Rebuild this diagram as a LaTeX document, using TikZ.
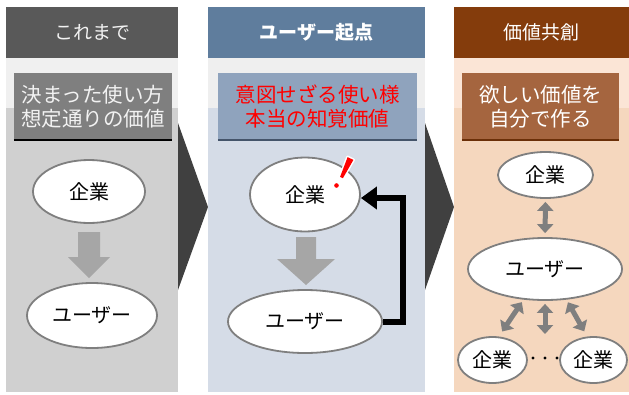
\documentclass[tikz,border=0pt]{standalone}
\usepackage{fontspec}
\setmainfont{Noto Sans CJK JP}
\usetikzlibrary{arrows.meta,shapes.geometric,calc}
\definecolor{pAhead}{HTML}{595959}
\definecolor{pAband}{HTML}{F0F0F0}
\definecolor{pAbody}{HTML}{D0D0D0}
\definecolor{pAbox}{HTML}{7F7F7F}
\definecolor{pAtext}{HTML}{F2F2F2}
\definecolor{pBhead}{HTML}{5F7D9D}
\definecolor{pBband}{HTML}{EFEFEF}
\definecolor{pBbody}{HTML}{D5DCE7}
\definecolor{pBbox}{HTML}{8FA3BD}
\definecolor{pBline}{HTML}{44546A}
\definecolor{pChead}{HTML}{843C0C}
\definecolor{pCband}{HTML}{FBE5D6}
\definecolor{pCbody}{HTML}{F5D7BE}
\definecolor{pCbox}{HTML}{A5653F}
\definecolor{pCline}{HTML}{6B2F08}
\definecolor{chev}{HTML}{404040}
\definecolor{ellb}{HTML}{7F7F7F}
\definecolor{blockgray}{HTML}{A6A6A6}
\definecolor{darrgray}{HTML}{7F7F7F}
\begin{document}
\begin{tikzpicture}[x=1pt,y=-1pt,
  headtxt/.style={text=white,font=\fontsize{19}{19}\selectfont,inner sep=0pt},
  boxtxt/.style={inner sep=0pt,minimum height=67pt,align=center,font=\fontsize{20.5}{24}\selectfont},
  ell/.style={ellipse,draw=ellb,line width=1.8pt,fill=white,inner sep=0pt,font=\fontsize{20}{20}\selectfont},
  darr/.style={draw=darrgray,line width=5pt,{Triangle[width=16pt,length=9pt]}-{Triangle[width=16pt,length=9pt]}},
  fb/.style={draw=black,line width=6pt,-{Triangle[width=22pt,length=16pt]}}
]
\useasboundingbox (0,0) rectangle (629,394);
% ---------- panel 1
\fill[pAbody] (6,7) rectangle (178,392);
\fill[pAband] (6,58) rectangle (178,108);
\fill[pAhead] (6,7) rectangle (178,58);
\node[headtxt,text=pAtext] (hA) at (92,32.5) {これまで};
\node[boxtxt,fill=pAbox,text=pAtext,minimum width=158pt] (bA) at (93,106.5) {決まった使い方\\想定通りの価値};
\draw[black,line width=2pt] (bA.south west) -- (bA.south east);
\node[ell,minimum width=112pt,minimum height=63pt] (kA) at (89,191.5) {企業};
\node[ell,minimum width=130pt,minimum height=65pt] (uA) at (92,315.5) {ユーザー};
\fill[blockgray] (78,232) -- (100,232) -- (100,257) -- (110,257) -- (89,278) -- (68,257) -- (78,257) -- cycle;
% chevron 1
\fill[chev] (178,123) -- (208,207) -- (178,290) -- cycle;
% ---------- panel 2
\fill[pBbody] (208,7) rectangle (425,392);
\fill[pBband] (208,58) rectangle (425,108);
\fill[pBhead] (208,7) rectangle (425,58);
\node[headtxt,font=\bfseries\fontsize{19}{19}\selectfont] (hB) at (316.5,32.5) {ユーザー起点};
\node[boxtxt,fill=pBbox,text=red,minimum width=199pt] (bB) at (317.5,106.5) {意図せざる使い様\\本当の知覚価値};
\draw[pBline,line width=2pt] (bB.south west) -- (bB.south east);
\node[ell,minimum width=110pt,minimum height=74pt] (kB) at (305,194.5) {企業};
\node[ell,minimum width=154pt,minimum height=63pt] (uB) at (305,321.5) {ユーザー};
\fill[blockgray] (296,237) -- (316,237) -- (316,259) -- (335,259) -- (306,285) -- (277,259) -- (296,259) -- cycle;
\coordinate (fbc) at (403,198);
\draw[fb] (uB.east) -| (fbc) -- (kB.east |- fbc);
% exclamation mark
\draw[white,line width=3pt,line join=round] (353.4,159.9) -- (347.6,157.1) -- (340.1,176.8) -- (342.9,178.2) -- cycle;
\fill[white] (336.5,185.5) circle (3.8pt);
\fill[red] (353.4,159.9) -- (347.6,157.1) -- (340.1,176.8) -- (342.9,178.2) -- cycle;
\fill[red] (336.5,185.5) circle (2.3pt);
% chevron 2
\fill[chev] (425,123) -- (454,207) -- (425,290) -- cycle;
% ---------- panel 3
\fill[pCbody] (454,7) rectangle (629,392);
\fill[pCband] (454,58) rectangle (629,108);
\fill[pChead] (454,7) rectangle (629,58);
\node[headtxt] (hC) at (541.5,32.5) {価値共創};
\node[boxtxt,fill=pCbox,text=white,minimum width=157pt] (bC) at (540.5,106.5) {欲しい価値を\\自分で作る};
\draw[pCline,line width=2pt] (bC.south west) -- (bC.south east);
\node[ell,minimum width=95pt,minimum height=46pt] (kC) at (545.5,175) {企業};
\node[ell,minimum width=154pt,minimum height=62pt] (uC) at (545,269) {ユーザー};
\node[ell,minimum width=69pt,minimum height=46pt] (kL) at (492.5,360) {企業};
\node[ell,minimum width=67pt,minimum height=46pt] (kR) at (593.5,360) {企業};
\draw[darr,shorten <=3pt,shorten >=4pt] (kC.south) -- (uC.north);
\draw[darr,shorten <=3pt,shorten >=6pt] (uC.235) -- (kL.75);
\draw[darr,shorten <=3pt,shorten >=6pt] (uC.305) -- (kR.105);
\coordinate (mid) at (545,334);
\draw[darr,shorten <=3pt] (uC.south) -- (mid);
\foreach \xx in {533,545,557} \fill[black] (\xx,358) circle (1.6pt);
\end{tikzpicture}
\end{document}
